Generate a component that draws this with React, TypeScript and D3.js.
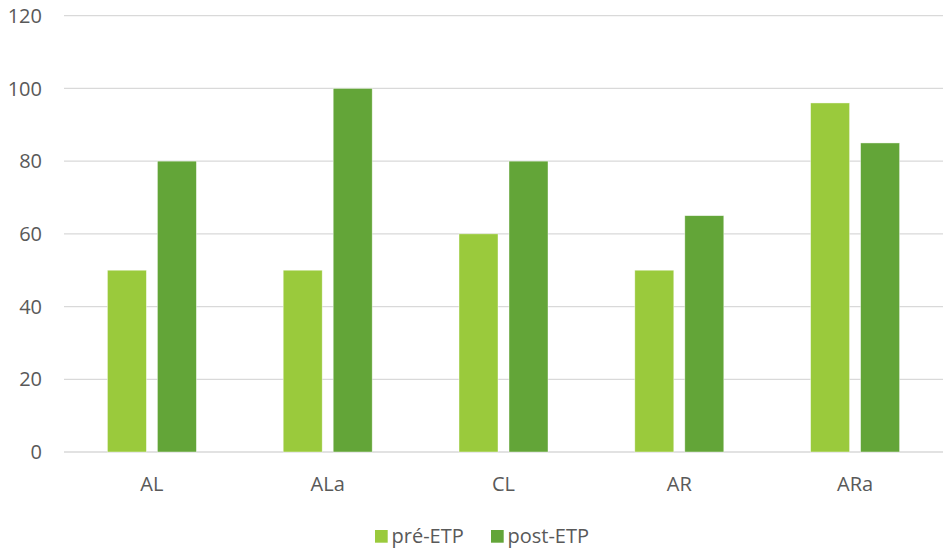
import React from "react";
import * as d3 from "d3";

const categories = ["AL", "ALa", "CL", "AR", "ARa"];
const preETP = [50, 50, 60, 50, 96];
const postETP = [80, 100, 80, 65, 85];
const seriesNames = ["pré-ETP", "post-ETP"];
const yTicks = [0, 20, 40, 60, 80, 100, 120];

const W = 948;
const H = 549;
const colors = ["#9ACA3C", "#63A538"];
const font = "'Open Sans', 'Liberation Sans', sans-serif";
const textColor = "#595959";

export default function App() {
  const x = d3.scaleBand<string>().domain(categories).range([64, 943]);
  const y = d3.scaleLinear().domain([0, 120]).range([452, 15.7]);
  const barW = 39;
  const gap = 11;
  const series = [preETP, postETP];
  const legendX = [375, 491];

  return (
    <svg width={W} height={H} style={{ position: "absolute", left: 0, top: 0, background: "#fff" }}>
      {yTicks.map((t) => (
        <g key={t}>
          <line x1={64} x2={943} y1={y(t)} y2={y(t)} stroke="#D9D9D9" strokeWidth={1.3} />
          <text x={42} y={y(t) + 7.2} textAnchor="end" fontFamily={font} fontSize={20} fill={textColor}>
            {t}
          </text>
        </g>
      ))}
      {categories.map((c, i) => {
        const cx = (x(c) as number) + x.bandwidth() / 2;
        const left = cx - barW - gap / 2;
        return (
          <g key={c}>
            {series.map((s, k) => (
              <rect
                key={k}
                x={left + k * (barW + gap)}
                y={y(s[i])}
                width={barW}
                height={y(0) - y(s[i])}
                fill={colors[k]}
                stroke="#fff"
                strokeOpacity={0.6}
                strokeWidth={0.7}
              />
            ))}
            <text x={cx} y={491} textAnchor="middle" fontFamily={font} fontSize={20} fill={textColor}>
              {c}
            </text>
          </g>
        );
      })}
      {seriesNames.map((n, k) => (
        <g key={n}>
          <rect x={legendX[k]} y={530} width={12.7} height={12.7} fill={colors[k]} />
          <text x={legendX[k] + 16.5} y={543} fontFamily={font} fontSize={20} fill={textColor}>
            {n}
          </text>
        </g>
      ))}
    </svg>
  );
}
